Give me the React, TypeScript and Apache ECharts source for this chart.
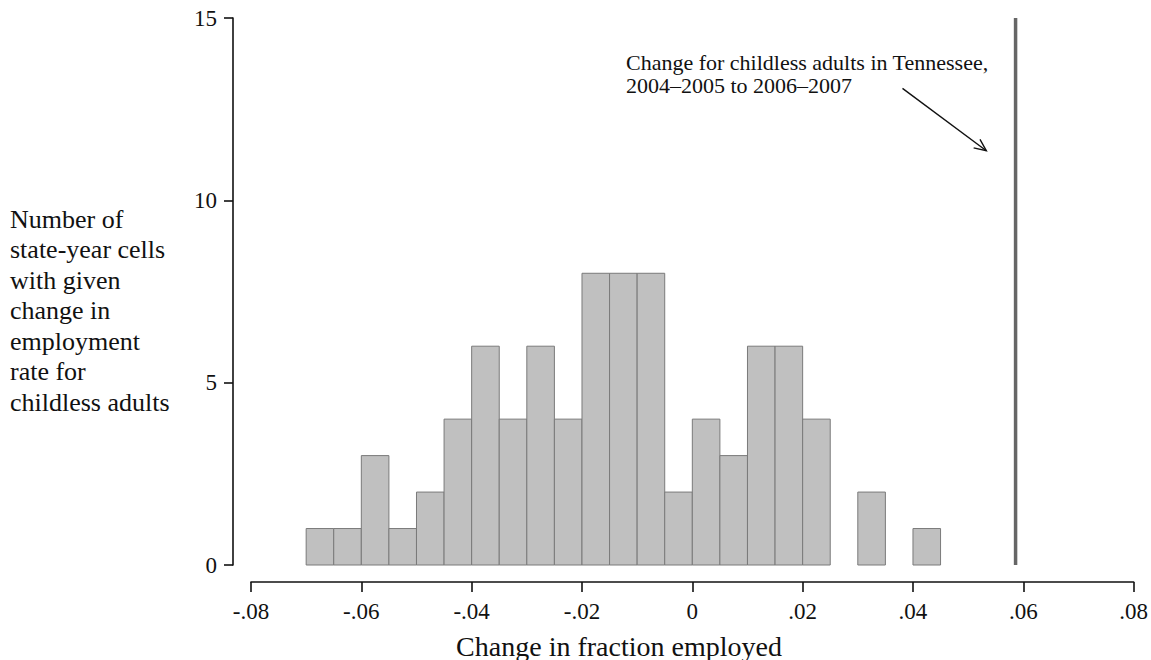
import { useEffect, useRef } from 'react';
import * as echarts from 'echarts';

// histogram bins: left edge of each bin, width 0.005
const binStarts = [
  -0.07, -0.065, -0.06, -0.055, -0.05, -0.045, -0.04, -0.035, -0.03, -0.025, -0.02, -0.015,
  -0.01, -0.005, 0, 0.005, 0.01, 0.015, 0.02, 0.025, 0.03, 0.035, 0.04,
];
const binCounts = [1, 1, 3, 1, 2, 4, 6, 4, 6, 4, 8, 8, 8, 2, 4, 3, 6, 6, 4, 0, 2, 0, 1];
const binWidth = 0.005;

// Tennessee reference value
const tennesseeChange = 0.0586;
const refLine = [
  [tennesseeChange, 0],
  [tennesseeChange, 15],
];

// annotation arrow (data coordinates)
const arrowStart = [0.0381, 13.07];
const arrowEnd = [0.0533, 11.36];

const xTicks = [-0.08, -0.06, -0.04, -0.02, 0, 0.02, 0.04, 0.06, 0.08];
const yTicks = [0, 5, 10, 15];

const annotation = 'Change for childless adults in Tennessee,\n2004\u20132005 to 2006\u20132007';
const yTitle =
  'Number of\nstate-year cells\nwith given\nchange in\nemployment\nrate for\nchildless adults';
const xTitle = 'Change in fraction employed';

const FONT = '"Liberation Serif", "DejaVu Serif", serif';

const fmtX = (v: number) => {
  if (Math.abs(v) < 1e-9) return '0';
  return v.toFixed(2).replace('0.', '.');
};

export default function App() {
  const chartRef = useRef<HTMLDivElement>(null);

  useEffect(() => {
    document.body.style.margin = '0';
    if (!chartRef.current) return;
    const chart = echarts.init(chartRef.current, undefined, { renderer: 'svg' });

    const bars = binStarts
      .map((s, i) => [s, binCounts[i]])
      .filter((d) => d[1] > 0);

    const option: echarts.EChartsOption = {
      animation: false,
      backgroundColor: '#ffffff',
      textStyle: { fontFamily: FONT },
      grid: { left: 251, right: 16, top: 18, bottom: 95 },
      xAxis: {
        type: 'value',
        min: xTicks[0],
        max: xTicks[xTicks.length - 1],
        interval: 0.02,
        offset: 17,
        axisLine: { show: true, onZero: false, lineStyle: { color: '#111', width: 1.6 } },
        axisTick: { show: true, length: 10, lineStyle: { color: '#111', width: 1.6 } },
        axisLabel: {
          margin: 18,
          fontSize: 23,
          color: '#111',
          fontFamily: FONT,
          formatter: (v: number) => fmtX(v),
        },
        splitLine: { show: false },
      },
      yAxis: {
        type: 'value',
        min: yTicks[0],
        max: yTicks[yTicks.length - 1],
        interval: 5,
        offset: 18,
        axisLine: { show: true, onZero: false, lineStyle: { color: '#111', width: 1.6 } },
        axisTick: { show: true, length: 9, lineStyle: { color: '#111', width: 1.6 } },
        axisLabel: { margin: 16, fontSize: 23, color: '#111', fontFamily: FONT },
        splitLine: { show: false },
      },
      series: [
        {
          type: 'custom',
          data: bars,
          renderItem: (params: any, api: any) => {
            const start = api.value(0);
            const count = api.value(1);
            const p0 = api.coord([start, count]);
            const p1 = api.coord([start + binWidth, 0]);
            return {
              type: 'rect',
              shape: { x: p0[0], y: p0[1], width: p1[0] - p0[0], height: p1[1] - p0[1] },
              style: { fill: '#c0c0c0', stroke: '#7a7a7a', lineWidth: 1 },
            };
          },
        },
        {
          type: 'line',
          data: refLine,
          symbol: 'none',
          lineStyle: { color: '#666', width: 3.5 },
        },
        {
          type: 'custom',
          data: [[0]],
          renderItem: (params: any, api: any) => {
            const a = api.coord(arrowStart);
            const b = api.coord(arrowEnd);
            const ang = Math.atan2(b[1] - a[1], b[0] - a[0]);
            const len = 13;
            const spread = 0.42;
            const h1 = [b[0] - len * Math.cos(ang - spread), b[1] - len * Math.sin(ang - spread)];
            const h2 = [b[0] - len * Math.cos(ang + spread), b[1] - len * Math.sin(ang + spread)];
            const st = { stroke: '#111', lineWidth: 1.4, fill: 'none' };
            return {
              type: 'group',
              children: [
                { type: 'line', shape: { x1: a[0], y1: a[1], x2: b[0], y2: b[1] }, style: st },
                { type: 'polyline', shape: { points: [h1, b, h2] }, style: st },
              ],
            };
          },
        },
      ],
      graphic: [
        {
          type: 'text',
          left: 10,
          top: 204,
          style: {
            text: yTitle,
            font: `26px ${FONT}`,
            lineHeight: 30.5,
            fill: '#111',
          },
        },
        {
          type: 'text',
          x: 619,
          y: 646,
          style: {
            text: xTitle,
            font: `28px ${FONT}`,
            fill: '#111',
            align: 'center',
            verticalAlign: 'middle',
          },
        },
        {
          type: 'text',
          x: 626,
          y: 74,
          style: {
            text: annotation,
            font: `22px ${FONT}`,
            lineHeight: 23,
            fill: '#111',
            align: 'left',
            verticalAlign: 'middle',
          },
        },
      ],
    };

    chart.setOption(option);
    return () => chart.dispose();
  }, []);

  return <div ref={chartRef} style={{ width: 1151, height: 660 }} />;
}
